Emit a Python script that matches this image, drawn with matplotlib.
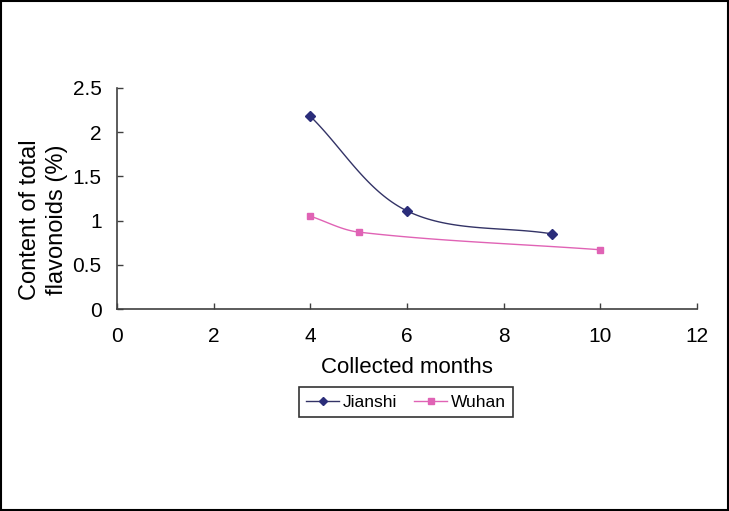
import numpy as np
import matplotlib
matplotlib.use("Agg")
import matplotlib.pyplot as plt
from matplotlib.lines import Line2D
from matplotlib.patches import Rectangle

plt.rcParams['font.family'] = ['Liberation Sans', 'DejaVu Sans']

jianshi_months = [4, 6, 9]
jianshi_values = [2.18, 1.11, 0.85]
wuhan_months = [4, 5, 10]
wuhan_values = [1.05, 0.87, 0.67]

x_ticks = [0, 2, 4, 6, 8, 10, 12]
y_ticks = [0, 0.5, 1, 1.5, 2, 2.5]
y_labels = ['0', '0.5', '1', '1.5', '2', '2.5']


def smooth(xs, ys, yscale=1.83, n=40):
    # spreadsheet-like smoothed line (bezier, chord-scaled tangents)
    p = np.column_stack([np.asarray(xs, float), np.asarray(ys, float) * yscale])
    outx, outy = [], []
    t = np.linspace(0, 1, n)[:, None]
    for i in range(len(p) - 1):
        a, b = p[i], p[i + 1]
        seg = np.linalg.norm(b - a)
        if i == 0:
            c1 = a + (b - a) / 3
        else:
            d = p[i + 1] - p[i - 1]
            c1 = a + d / np.linalg.norm(d) * seg / 3
        if i == len(p) - 2:
            c2 = b - (b - a) / 3
        else:
            d = p[i + 2] - p[i]
            c2 = b - d / np.linalg.norm(d) * seg / 3
        pts = (1 - t) ** 3 * a + 3 * (1 - t) ** 2 * t * c1 + 3 * (1 - t) * t ** 2 * c2 + t ** 3 * b
        outx.extend(pts[:, 0])
        outy.extend(pts[:, 1] / yscale)
    return outx, outy


fig = plt.figure(figsize=(7.29, 5.11), dpi=100)
ax = fig.add_axes([0.1605, 0.3953, 0.7955, 0.4325])

c_j = '#2b2d7a'
c_w = '#e063b5'

sx, sy = smooth(jianshi_months, jianshi_values)
ax.plot(sx, sy, color='#333366', lw=1.0)
ax.plot(jianshi_months, jianshi_values, 'D', color=c_j, ms=5, ls='none')
sx, sy = smooth(wuhan_months, wuhan_values)
ax.plot(sx, sy, color=c_w, lw=1.0)
ax.plot(wuhan_months, wuhan_values, 's', color=c_w, ms=5, ls='none')

ax.set_xlim(0, 12)
ax.set_ylim(0, 2.5)
ax.set_xticks(x_ticks)
ax.set_yticks(y_ticks)
ax.set_yticklabels(y_labels)
for s in ['top', 'right']:
    ax.spines[s].set_visible(False)
for s in ['left', 'bottom']:
    ax.spines[s].set_color('#404040')
    ax.spines[s].set_linewidth(1.2)
ax.tick_params(direction='in', length=4, labelsize=15, width=1, color='#404040')
ax.tick_params(axis='y', pad=11)
ax.tick_params(axis='x', pad=13)
ax.set_xlabel('Collected months', fontsize=16, labelpad=8)
ax.set_ylabel('Content of total\nflavonoids (%)', fontsize=17, labelpad=3,
              linespacing=1.3)
ax.yaxis.label.set_y(0.405)

handles = [Line2D([], [], color='#333366', marker='D', markerfacecolor=c_j,
                  markeredgecolor=c_j, ms=4, lw=1),
           Line2D([], [], color=c_w, marker='s', ms=4, lw=1)]
leg = fig.legend(handles, ['Jianshi', 'Wuhan'], loc='center', ncol=2,
                 bbox_to_anchor=(0.557, 0.2133), fontsize=12.5, frameon=True,
                 fancybox=False, edgecolor='black', borderpad=0.4,
                 handlelength=1.9, columnspacing=1.0, handletextpad=0.2,
                 borderaxespad=0)
leg.get_frame().set_linewidth(1.2)

fig.patches.append(Rectangle((0.002, 0.002), 0.996, 0.996, transform=fig.transFigure,
                             fill=False, edgecolor='black', lw=1.5))

fig.savefig('out.png', dpi=100)
